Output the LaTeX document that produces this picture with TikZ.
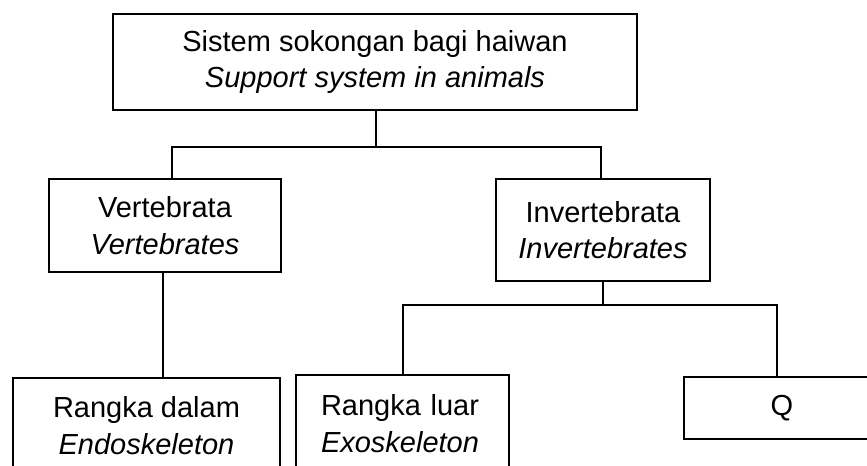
\documentclass[tikz,border=0pt]{standalone}
\usepackage{fontspec}
\setmainfont{Liberation Sans}
\begin{document}
\begin{tikzpicture}[x=0.75pt,y=-0.75pt,
  box/.style={draw, line width=1.5pt, rectangle, align=center, inner sep=0pt,
    font=\fontsize{21.75}{27.5}\selectfont},
  link/.style={line width=1.5pt}]
\useasboundingbox (0,0) rectangle (867,466);
\clip (0,0) rectangle (867,466);
\node[box, minimum width=393pt, minimum height=72pt] (top) at (375,62)
  {Sistem sokongan bagi haiwan\\\textit{Support system in animals}};
\node[box, minimum width=174pt, minimum height=69.75pt] (vert) at (165,225.5)
  {Vertebrata\\\textit{Vertebrates}};
\node[box, minimum width=160.5pt, minimum height=76.5pt] (inv) at (603,230)
  {Invertebrata\\\textit{Invertebrates}};
\node[box, minimum width=200.25pt, minimum height=71.25pt] (dalam) at (146.5,425.5)
  {Rangka dalam\\\textit{Endoskeleton}};
\node[box, align=left, text width=122.25pt, inner xsep=18.75pt, minimum height=72.75pt] (luar) at (402.5,423.5)
  {Rangka luar\\\textit{Exoskeleton}};
\node[box, minimum width=147pt, minimum height=46.5pt] (q) at (782,408) {Q};
\coordinate (j0) at (376,147);
\coordinate (jl) at (172,147);
\coordinate (jr) at (601,147);
\coordinate (kv) at (163,300);
\coordinate (j2) at (603,305);
\coordinate (jl2) at (403,305);
\coordinate (jr2) at (777,305);
\draw[link] (top.south -| j0) -- (j0);
\draw[link] (vert.north -| jl) -- (jl) -- (jr) -- (inv.north -| jr);
\draw[link] (vert.south -| kv) -- (dalam.north -| kv);
\draw[link] (inv.south) -- (j2);
\draw[link] (luar.north -| jl2) -- (jl2) -- (jr2) -- (q.north -| jr2);
\end{tikzpicture}
\end{document}
